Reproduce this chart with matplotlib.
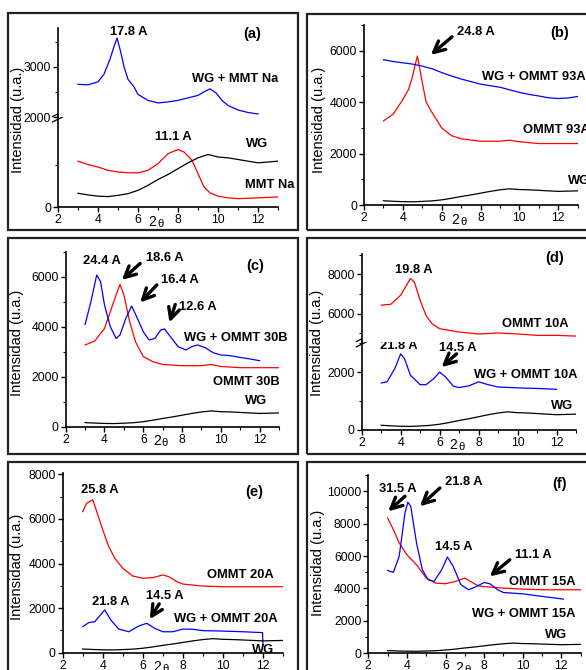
import matplotlib
matplotlib.use("Agg")
import matplotlib.pyplot as plt
from matplotlib.patches import Rectangle
from matplotlib.lines import Line2D
from matplotlib.ticker import MultipleLocator, FixedLocator

plt.rcParams["font.family"] = ["Liberation Sans", "DejaVu Sans"]

# ---------------- data (2theta in degrees, intensity in u.a.) ----------------
# WG (same pattern in every panel)
wg_x = [3, 3.5, 4, 4.5, 5, 5.5, 6, 6.5, 7, 7.5, 8, 8.5, 9, 9.5, 10, 10.5, 11, 11.5, 12, 12.5, 13]
wg_y = [165, 145, 130, 125, 140, 160, 200, 260, 330, 390, 460, 530, 590, 630, 600, 590, 570, 550, 530, 540, 550]

# (a) MMT Na
mmtna_x = [3, 3.5, 4, 4.5, 5, 5.5, 6, 6.5, 7, 7.5, 8, 8.3, 8.7, 9, 9.3, 9.6, 10, 10.5, 11, 11.5, 12, 12.5, 13]
mmtna_y = [550, 510, 480, 440, 420, 410, 410, 440, 520, 640, 690, 660, 560, 400, 240, 170, 130, 110, 100, 105, 110, 115, 120]
wgna_x = [3, 3.5, 4, 4.3, 4.6, 4.8, 4.95, 5.1, 5.3, 5.5, 5.8, 6, 6.5, 7, 7.5, 8, 8.5, 9, 9.3, 9.6,
          9.9, 10.2, 10.5, 11, 11.5, 12]
wgna_y = [2650, 2640, 2700, 2850, 3150, 3400, 3570, 3350, 3000, 2750, 2600, 2450, 2330, 2280, 2300, 2330,
          2380, 2430, 2500, 2560, 2480, 2330, 2230, 2140, 2090, 2060]

# (b) OMMT 93A
o93_x = [3, 3.5, 4, 4.3, 4.5, 4.65, 4.75, 4.85, 5.0, 5.2, 5.5, 6, 6.5, 7, 8, 9, 9.5, 10, 11, 12, 13]
o93_y = [3270, 3530, 4100, 4500, 5000, 5500, 5790, 5400, 4770, 4000, 3600, 3000, 2700, 2575, 2480, 2480,
         2520, 2460, 2390, 2390, 2390]
wg93_x = [3, 3.5, 4, 4.5, 5, 5.5, 6, 6.5, 7, 7.5, 8, 8.5, 9, 9.5, 10, 10.5, 11, 11.5, 12, 12.5, 13]
wg93_y = [5650, 5580, 5530, 5480, 5400, 5300, 5150, 5020, 4900, 4800, 4700, 4640, 4580, 4480, 4380,
          4300, 4240, 4170, 4140, 4160, 4220]

# (c) OMMT 30B
o30_x = [3, 3.5, 4, 4.3, 4.6, 4.8, 5.0, 5.3, 5.6, 6, 6.5, 7, 8, 9, 9.5, 10, 11, 12, 13]
o30_y = [3270, 3430, 3930, 4600, 5270, 5690, 5270, 4200, 3400, 2800, 2600, 2490, 2440, 2440, 2490,
         2410, 2360, 2360, 2360]
wg30_x = [3, 3.3, 3.6, 3.8, 4.0, 4.3, 4.6, 4.8, 5.1, 5.4, 5.7, 6, 6.3, 6.6, 6.9, 7.1, 7.4, 7.8, 8.2,
          8.5, 8.8, 9.2, 9.6, 10, 10.5, 11, 11.5, 12]
wg30_y = [4090, 5000, 6070, 5800, 4870, 4000, 3530, 3670, 4330, 4830, 4330, 3800, 3470, 3530, 3870,
          3910, 3600, 3200, 3070, 3200, 3270, 3160, 2960, 2870, 2840, 2770, 2710, 2640]

# (d) OMMT 10A
o10_x = [3, 3.5, 4, 4.3, 4.5, 4.7, 5, 5.3, 5.6, 6, 7, 8, 9, 10, 11, 12, 13]
o10_y = [6430, 6480, 6940, 7450, 7790, 7620, 6680, 5910, 5490, 5230, 5060, 4960, 5010, 4960, 4890,
         4890, 4850]
wg10_x = [3, 3.3, 3.7, 4.0, 4.2, 4.5, 5, 5.3, 5.7, 6.0, 6.3, 6.7, 7, 7.5, 8, 8.5, 9, 10, 11, 12]
wg10_y = [1630, 1670, 2130, 2640, 2470, 1900, 1570, 1570, 1780, 2010, 1840, 1520, 1470, 1530, 1670,
          1570, 1490, 1460, 1440, 1410]

# (e) OMMT 20A
o20_x = [3, 3.2, 3.5, 3.7, 4, 4.3, 4.6, 5, 5.5, 6, 6.5, 7, 7.3, 7.7, 8, 9, 10, 11, 12, 13]
o20_y = [6330, 6710, 6860, 6330, 5510, 4760, 4240, 3790, 3440, 3340, 3370, 3490, 3410, 3190, 3080,
         2990, 2960, 2960, 2960, 2960]
wg20_x = [3, 3.3, 3.6, 4.1, 4.4, 4.8, 5.3, 5.8, 6.2, 6.6, 7, 7.5, 8, 8.5, 9, 10, 11, 11.98, 12.0]
wg20_y = [1170, 1350, 1390, 1920, 1470, 1060, 940, 1200, 1320, 1090, 940, 940, 1060, 1050, 990, 970,
          940, 900, 350]

# (f) OMMT 15A
o15_x = [3, 3.3, 3.6, 4, 4.5, 5, 5.5, 6, 6.5, 7, 7.3, 7.7, 8, 9, 10, 11, 12, 13]
o15_y = [8350, 7630, 6800, 6080, 5460, 4640, 4330, 4290, 4430, 4640, 4430, 4160, 4120, 4020, 3960,
         3920, 3920, 3920]
wg15_x = [3, 3.3, 3.6, 3.9, 4.05, 4.2, 4.5, 4.8, 5.1, 5.4, 5.8, 6.1, 6.4, 6.8, 7.2, 7.6, 8, 8.3, 8.7,
          9, 10, 11, 12, 12.1]
wg15_y = [5110, 4990, 5980, 8660, 9320, 9070, 6800, 5150, 4540, 4430, 5150, 5940, 5360, 4230, 3920,
          4120, 4370, 4290, 3920, 3750, 3670, 3510, 3360, 3340]

# ---------------- figure ----------------
W, H = 586, 670
fig = plt.figure(figsize=(W / 100, H / 100), dpi=100)

RED, BLUE, BLACK = "#ff0000", "#0000ff", "black"
LW = 0.9
BOLD = dict(fontsize=9.3, fontweight="bold")


def px_axes(left, right, bottom, top):
    # axes placed with pixel coordinates of the reference picture
    return fig.add_axes([left / W, 1 - bottom / H, (right - left) / W, (bottom - top) / H])


def frame(x0, y0, x1, y1):
    fig.patches.append(Rectangle((x0 / W, 1 - y1 / H), (x1 - x0) / W, (y1 - y0) / H,
                                 transform=fig.transFigure, fill=False, lw=1.6, ec="#222222"))


def style(ax, major, minor, xaxis=True):
    ax.set_xlim(2, 13)
    for s in ("top", "right"):
        ax.spines[s].set_visible(False)
    for s in ("left", "bottom"):
        ax.spines[s].set_linewidth(1.2)
    ax.yaxis.set_major_locator(FixedLocator(major))
    ax.yaxis.set_minor_locator(FixedLocator(minor))
    ax.xaxis.set_major_locator(MultipleLocator(2))
    ax.xaxis.set_minor_locator(MultipleLocator(1))
    ax.tick_params(which="major", direction="out", length=3.5, width=1, labelsize=8.8, pad=1.5)
    ax.tick_params(which="minor", direction="out", length=2, width=0.8)
    if not xaxis:
        ax.spines["bottom"].set_visible(False)
        ax.tick_params(axis="x", which="both", bottom=False, labelbottom=False)
    else:
        ax.annotate("2", xy=(6.72, 0), xycoords=("data", "axes fraction"), xytext=(0, -10.5),
                    textcoords="offset points", ha="center", va="center", fontsize=10)
        ax.annotate("θ", xy=(7.12, 0), xycoords=("data", "axes fraction"), xytext=(0, -12),
                    textcoords="offset points", ha="center", va="center", fontsize=8)


def break_marks(ax):
    # small "//" marks on the left spine at the top of the lower axes
    for dy in (-0.025, 0.035):
        ax.add_line(Line2D([-0.025, 0.025], [1 + dy - 0.03, 1 + dy + 0.03], transform=ax.transAxes,
                           color="black", lw=0.9, clip_on=False))


def ylabel(xp, yp):
    fig.text(xp / W, 1 - yp / H, "Intensidad (u.a.)", rotation=90, ha="center", va="center",
             fontsize=10.5)


def arrow(ax, tail, head):
    ax.annotate("", xy=head, xytext=tail,
                arrowprops=dict(arrowstyle="->", lw=2.4, color="black", mutation_scale=20,
                                shrinkA=0, shrinkB=0))


# frames around the six panels
frame(8, 13, 298, 230)
frame(307, 14, 592, 230)
frame(8, 238, 298, 454)
frame(307, 238, 592, 454)
frame(8, 462, 298, 675)
frame(307, 462, 592, 675)

# ---------- (a) ----------
ax_lo = px_axes(58, 278, 207, 117)
ax_hi = px_axes(58, 278, 117, 28)
ax_lo.plot(mmtna_x, mmtna_y, color=RED, lw=LW)
ax_lo.plot(wg_x, wg_y, color=BLACK, lw=LW)
ax_hi.plot(wgna_x, wgna_y, color=BLUE, lw=LW)
ax_lo.set_ylim(0, 1080)
ax_hi.set_ylim(2000, 3770)
style(ax_lo, [0], [500])
style(ax_hi, [2000, 3000], [2500, 3500], xaxis=False)
break_marks(ax_lo)
ax_hi.text(5.55, 3690, "17.8 A", ha="center", va="center", **BOLD)
ax_hi.text(13, 2750, "WG + MMT Na", ha="right", va="center", **BOLD)
ax_hi.text(11.7, 3660, "(a)", ha="center", va="center", fontsize=10.5, fontweight="bold")
ax_lo.text(7.79, 840, "11.1 A", ha="center", va="center", clip_on=False, **BOLD)
ax_lo.text(12.53, 760, "WG", ha="right", va="center", **BOLD)
ax_lo.text(13.8, 268, "MMT Na", ha="right", va="center", clip_on=False, **BOLD)
ylabel(18, 120)

# ---------- (b) ----------
ax = px_axes(364, 577.6, 205, 25)
ax.plot(o93_x, o93_y, color=RED, lw=LW)
ax.plot(wg93_x, wg93_y, color=BLUE, lw=LW)
ax.plot(wg_x, wg_y, color=BLACK, lw=LW)
ax.set_ylim(0, 7000)
style(ax, [0, 2000, 4000, 6000], [1000, 3000, 5000, 7000])
arrow(ax, (6.53, 6540), (5.44, 5840))
ax.text(6.78, 6730, "24.8 A", ha="left", va="center", **BOLD)
ax.text(8.07, 4970, "WG + OMMT 93A", ha="left", va="center", clip_on=False, **BOLD)
ax.text(10.18, 2900, "OMMT 93A", ha="left", va="center", clip_on=False, **BOLD)
ax.text(12.5, 915, "WG", ha="left", va="center", clip_on=False, **BOLD)
ax.text(12.1, 6670, "(b)", ha="center", va="center", fontsize=10.5, fontweight="bold")
ylabel(319, 120)

# ---------- (c) ----------
ax = px_axes(65.7, 279, 426.7, 251.7)
ax.plot(o30_x, o30_y, color=RED, lw=LW)
ax.plot(wg30_x, wg30_y, color=BLUE, lw=LW)
ax.plot(wg_x, wg_y, color=BLACK, lw=LW)
ax.set_ylim(0, 7000)
style(ax, [0, 2000, 4000, 6000], [1000, 3000, 5000, 7000])
arrow(ax, (5.84, 6530), (4.89, 5870))
arrow(ax, (6.70, 5670), (5.84, 4970))
arrow(ax, (7.65, 4890), (7.35, 4170))
ax.text(3.88, 6640, "24.4 A", ha="center", va="center", **BOLD)
ax.text(7.13, 6730, "18.6 A", ha="center", va="center", **BOLD)
ax.text(7.87, 5870, "16.4 A", ha="center", va="center", **BOLD)
ax.text(8.80, 4800, "12.6 A", ha="center", va="center", **BOLD)
ax.text(8.08, 3560, "WG + OMMT 30B", ha="left", va="center", clip_on=False, **BOLD)
ax.text(13.03, 1800, "OMMT 30B", ha="right", va="center", clip_on=False, **BOLD)
ax.text(12.41, 1040, "WG", ha="right", va="center", **BOLD)
ax.text(11.78, 6440, "(c)", ha="center", va="center", fontsize=10.5, fontweight="bold")
ylabel(17.3, 343)

# ---------- (d) ----------
ax_lo = px_axes(361.7, 576, 430, 342)
ax_hi = px_axes(361.7, 576, 342, 254.3)
ax_hi.plot(o10_x, o10_y, color=RED, lw=LW)
ax_lo.plot(wg10_x, wg10_y, color=BLUE, lw=LW)
ax_lo.plot(wg_x, wg_y, color=BLACK, lw=LW)
ax_lo.set_ylim(0, 3050)
ax_hi.set_ylim(4550, 9030)
style(ax_lo, [0, 2000], [1000, 3000])
style(ax_hi, [6000, 8000], [5000, 7000, 9000], xaxis=False)
break_marks(ax_lo)
arrow(ax_lo, (6.87, 2640), (6.10, 2180))
ax_hi.text(4.65, 8220, "19.8 A", ha="center", va="center", **BOLD)
ax_hi.text(12.6, 5490, "OMMT 10A", ha="right", va="center", **BOLD)
ax_hi.text(11.9, 8820, "(d)", ha="center", va="center", fontsize=10.5, fontweight="bold")
ax_lo.text(3.90, 2910, "21.8 A", ha="center", va="center", clip_on=False, **BOLD)
ax_lo.text(6.91, 2840, "14.5 A", ha="center", va="center", clip_on=False, **BOLD)
ax_lo.text(13.06, 1900, "WG + OMMT 10A", ha="right", va="center", clip_on=False, **BOLD)
ax_lo.text(12.85, 830, "WG", ha="right", va="center", **BOLD)
ylabel(316.7, 343)

# ---------- (e) ----------
ax = px_axes(62.7, 283, 652.7, 473.3)
ax.plot(o20_x, o20_y, color=RED, lw=LW)
ax.plot(wg20_x, wg20_y, color=BLUE, lw=LW)
ax.plot(wg_x, wg_y, color=BLACK, lw=LW)
ax.set_ylim(0, 8050)
style(ax, [0, 2000, 4000, 6000, 8000], [1000, 3000, 5000, 7000])
arrow(ax, (6.82, 2190), (6.35, 1500))
ax.text(3.86, 7310, "25.8 A", ha="center", va="center", **BOLD)
ax.text(12.53, 3490, "OMMT 20A", ha="right", va="center", **BOLD)
ax.text(4.41, 2290, "21.8 A", ha="center", va="center", **BOLD)
ax.text(7.10, 2560, "14.5 A", ha="center", va="center", **BOLD)
ax.text(12.75, 1500, "WG + OMMT 20A", ha="right", va="center", **BOLD)
ax.text(12.58, 120, "WG", ha="right", va="center", **BOLD)
ax.text(11.58, 7230, "(e)", ha="center", va="center", fontsize=10.5, fontweight="bold")
ylabel(17.3, 567)

# ---------- (f) ----------
ax = px_axes(368.3, 580.6, 653.3, 475)
ax.plot(o15_x, o15_y, color=RED, lw=LW)
ax.plot(wg15_x, wg15_y, color=BLUE, lw=LW)
ax.plot(wg_x, wg_y, color=BLACK, lw=LW)
ax.set_ylim(0, 11000)
style(ax, [0, 2000, 4000, 6000, 8000, 10000], [1000, 3000, 5000, 7000, 9000, 11000])
arrow(ax, (3.90, 9690), (3.03, 8760))
arrow(ax, (5.71, 10200), (4.67, 9070))
arrow(ax, (9.33, 5770), (8.29, 4740))
ax.text(3.53, 10140, "31.5 A", ha="center", va="center", **BOLD)
ax.text(6.93, 10560, "21.8 A", ha="center", va="center", **BOLD)
ax.text(6.41, 6540, "14.5 A", ha="center", va="center", **BOLD)
ax.text(10.55, 6080, "11.1 A", ha="center", va="center", **BOLD)
ax.text(12.72, 4370, "OMMT 15A", ha="right", va="center", **BOLD)
ax.text(12.72, 2410, "WG + OMMT 15A", ha="right", va="center", **BOLD)
ax.text(12.29, 1130, "WG", ha="right", va="center", **BOLD)
ax.text(11.91, 10450, "(f)", ha="center", va="center", fontsize=10.5, fontweight="bold")
ylabel(318, 563)

fig.savefig("out.png", dpi=100)
plt.close(fig)
